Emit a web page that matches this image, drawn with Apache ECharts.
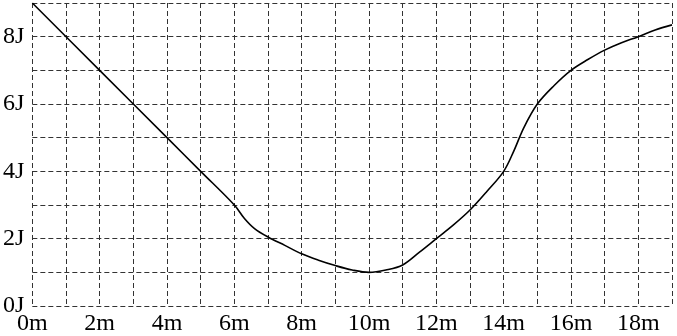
<!DOCTYPE html>
<html>
<head>
<meta charset="utf-8">
<script src="https://cdn.jsdelivr.net/npm/echarts@6/dist/echarts.min.js"></script>
<style>
html,body{margin:0;padding:0;background:#fff;}
#chart{width:677px;height:336px;}
</style>
</head>
<body>
<div id="chart"></div>
<script>
var distances = [0, 2, 4, 5, 6, 6.3, 6.6, 7, 7.5, 8, 8.5, 9, 9.5, 10, 10.5, 11, 11.5, 12, 12.5, 13, 13.5, 14, 14.3, 14.6, 15, 15.5, 16, 16.5, 17, 17.5, 18, 18.5, 19];
var energies = [9, 7, 5, 4, 3, 2.6, 2.3, 2.05, 1.8, 1.55, 1.36, 1.2, 1.07, 1.0, 1.07, 1.22, 1.6, 2.0, 2.4, 2.85, 3.4, 4.0, 4.6, 5.3, 6.0, 6.55, 7.0, 7.32, 7.6, 7.82, 8.0, 8.2, 8.35];
var xTickLabels = ['0m','2m','4m','6m','8m','10m','12m','14m','16m','18m'];
var yTickLabels = ['0J','2J','4J','6J','8J'];

var points = distances.map(function(d, i){ return [d, energies[i]]; });
var font = '"Liberation Serif", "Times New Roman", Times, serif';
var gridDash = {color:'#333', width:1, type:[5,3]};

var chart = echarts.init(document.getElementById('chart'));
chart.setOption({
  animation:false,
  backgroundColor:'#fff',
  grid:{left:32, right:5, top:3, bottom:30, containLabel:false},
  xAxis:{
    type:'value', min:0, max:19, interval:1,
    axisLine:{show:false}, axisTick:{show:false},
    splitLine:{show:true, lineStyle:gridDash},
    axisLabel:{
      fontFamily:font, fontSize:24, color:'#000', margin:6,
      showMaxLabel:false,
      formatter:function(v){ return (v % 2 === 0) ? (xTickLabels[v/2] || '') : ''; }
    }
  },
  yAxis:{
    type:'value', min:0, max:9, interval:1,
    axisLine:{show:false}, axisTick:{show:false},
    splitLine:{show:true, lineStyle:gridDash},
    axisLabel:{
      fontFamily:font, fontSize:24, color:'#000', margin:8,
      showMaxLabel:false,
      formatter:function(v){ return (v % 2 === 0) ? (yTickLabels[v/2] || '') : ''; }
    }
  },
  series:[{
    type:'line',
    data:points,
    smooth:0.35,
    symbol:'none',
    lineStyle:{color:'#000', width:1.6}
  }]
});
</script>
</body>
</html>
